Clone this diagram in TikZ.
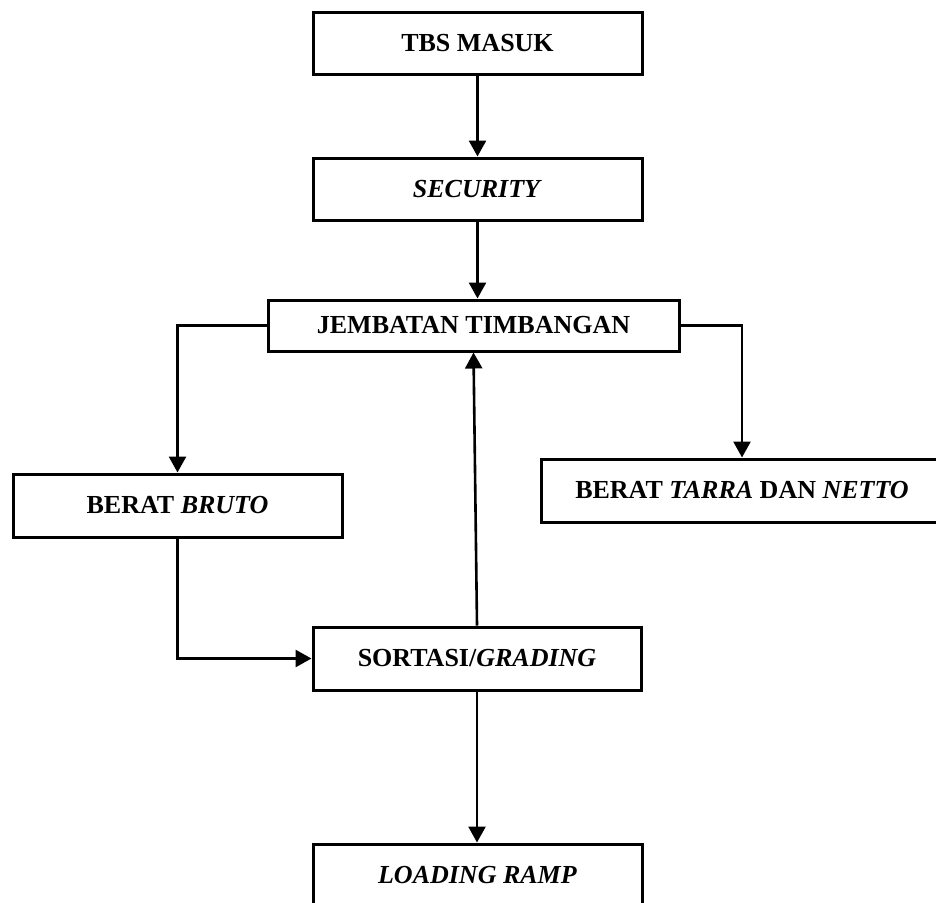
\documentclass[tikz,border=0pt]{standalone}
\usepackage{fontspec}
\setmainfont{Liberation Serif}
\usepackage{tikz}
\usetikzlibrary{arrows.meta,positioning,calc}

\tikzset{
  proses/.style={draw=black,line width=3pt,fill=white,inner sep=0pt,
    minimum height=63pt,text centered,font=\fontsize{26}{30}\selectfont\bfseries},
  panah/.style={line width=2.6pt,-{Triangle[length=16pt,width=17pt]}}
}

\begin{document}
\begin{tikzpicture}[x=1pt,y=-1pt]
  \useasboundingbox (0,0) rectangle (936,902);
  \node [proses,minimum width=329pt,minimum height=62pt] (tbs) at (477.5,43) {TBS MASUK};
  \node [proses,minimum width=329pt,minimum height=62pt] (security) at (477.5,189) {\textit{SECURITY}};
  \node [proses,minimum width=411pt,minimum height=51pt] (jembatan) at (473.5,325.5) {JEMBATAN TIMBANGAN};
  \node [proses,minimum width=329pt] (bruto) at (177.5,505.5) {BERAT \textit{BRUTO}};
  \node [proses,minimum width=402pt] (tarra) at (742,490.5) {BERAT \textit{TARRA} DAN \textit{NETTO}};
  \node [proses,minimum width=328pt] (sortasi) at (477,658.5) {SORTASI/\textit{GRADING}};
  \node [proses,minimum width=329pt] (loading) at (477.5,875.5) {\textit{LOADING RAMP}};
  \draw [panah] (tbs.south) -- (security.north);
  \draw [panah] (security.south) -- (security.south |- jembatan.north);
  \draw [panah] (jembatan.west) -| (bruto.north);
  \draw [panah] (jembatan.east) -| (tarra.north);
  \draw [panah] (bruto.south) |- (sortasi.west);
  \draw [panah] (sortasi.north) -- (jembatan.south);
  \draw [panah] (sortasi.south) -- (sortasi.south |- loading.north);
\end{tikzpicture}
\end{document}
